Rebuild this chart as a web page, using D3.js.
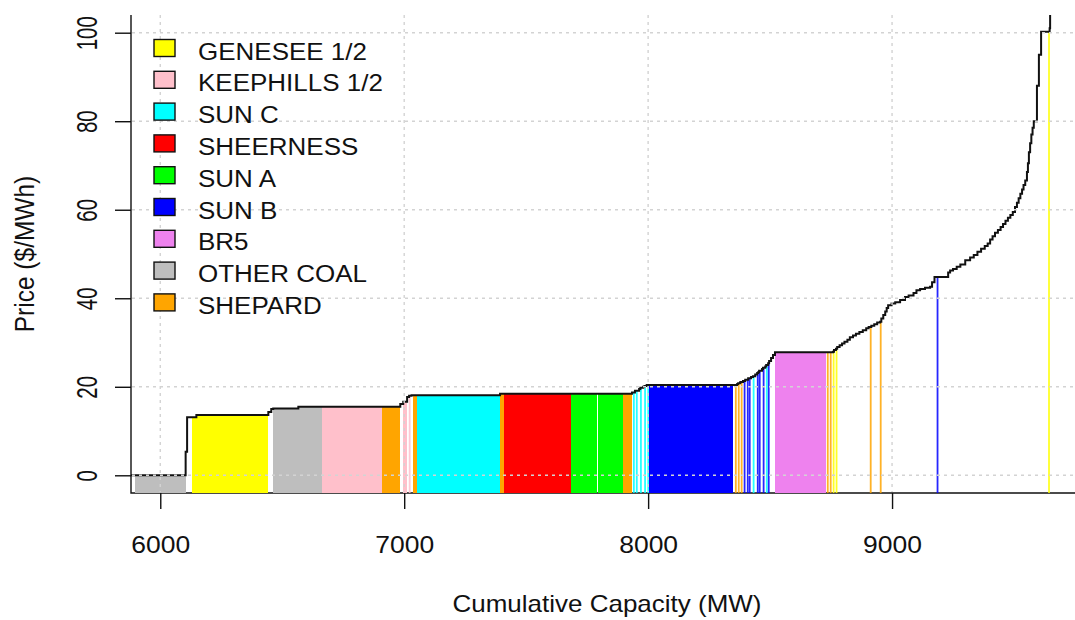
<!DOCTYPE html>
<html>

<head>
    <meta charset="UTF-8">
    <style>
        body { margin: 0; background: #fff; }
        svg { display: block; }
        text { font-family: "Liberation Sans", Arial, sans-serif; fill: #111; }
    </style>
</head>

<body>
    <svg></svg>
    <script src="https://d3js.org/d3.v7.min.js"></script>
    <script>
        let width = 1075,
            height = 620;

        // legend / plant colours (R named colours)
        let plants = ["GENESEE 1/2", "KEEPHILLS 1/2", "SUN C", "SHEERNESS", "SUN A", "SUN B", "BR5", "OTHER COAL", "SHEPARD"];
        let plantKeys = ["GEN", "KH", "SC", "SH", "SA", "SB", "BR5", "OC", "SP"];
        let plantColors = ["#ffff00", "#ffc0cb", "#00ffff", "#ff0000", "#00ff00", "#0000ff", "#ee82ee", "#bebebe", "#ffa500"];

        let xTicks = [6000, 7000, 8000, 9000];
        let yTicks = [0, 20, 40, 60, 80, 100];

        // merit order offers: [MW, price $/MWh, plant key ("" = other)]
        let startCapacity = 5870;
        let offers = [
            [26, 0, ""], [208, 0, "OC"], [6, 5.3, ""], [20, 13.1, ""], [18, 13.1, "GEN"], [295, 13.6, "GEN"],
            [12, 14.3, ""], [8, 15.0, ""], [103, 15.1, "OC"], [98, 15.5, "OC"], [246, 15.5, "KH"], [74, 15.5, "SP"],
            [12, 16.1, ""], [16, 16.6, "KH"], [8, 17.7, ""], [10, 18.0, "KH"], [8, 18.1, ""], [14, 18.1, "SP"],
            [341, 18.1, "SC"], [17, 18.4, "SP"], [274, 18.4, "SH"], [105, 18.4, "SA"], [4, 18.4, ""], [105, 18.4, "SA"],
            [36, 18.4, "SP"], [5, 18.7, ""], [7, 18.7, "SC"], [5, 19.1, ""], [12, 19.1, "SC"], [5, 19.5, ""],
            [12, 19.8, "SC"], [5, 20.0, ""], [9, 20.2, "SC"], [4, 20.4, ""], [6, 20.4, "SC"], [344, 20.4, "SB"],
            [9, 20.4, ""], [8, 20.4, "SP"], [4, 20.6, ""], [8, 20.8, "SP"], [4, 21.0, ""], [8, 21.1, "SP"],
            [4, 21.3, ""], [5, 21.3, "SB"], [8, 21.6, ""], [4, 21.6, "SB"], [4, 21.9, ""], [8, 21.9, "SB"],
            [8, 22.2, ""], [9, 22.4, "SC"], [8, 22.8, ""], [4, 23.1, "SB"], [4, 23.3, ""], [12, 23.6, "SB"],
            [4, 24.0, ""], [9, 24.3, "SB"], [4, 24.6, ""], [8, 24.9, "SC"], [4, 25.3, "SB"], [8, 25.8, ""],
            [8, 26.5, ""], [8, 27.2, ""], [210, 27.8, "BR5"], [4, 27.8, ""], [4, 27.8, "SP"], [8, 27.8, ""],
            [4, 27.8, "SP"], [8, 27.8, ""], [4, 27.9, "GEN"], [8, 28.3, ""], [5, 28.6, "GEN"],
            [10, 29.0, ""], [10, 29.4, ""], [10, 29.8, ""], [12, 30.2, ""], [10, 30.6, ""], [13, 31.2, ""],
            [12, 31.6, ""], [14, 32.0, ""], [14, 32.4, ""], [14, 32.8, ""], [10, 33.2, ""], [6, 33.5, ""],
            [5, 33.5, "SP"], [12, 33.8, ""], [12, 34.1, ""], [12, 34.5, ""], [5, 34.7, "SP"], [8, 35.4, ""],
            [8, 36.2, ""], [6, 37.0, ""], [6, 37.8, ""], [14, 38.4, ""], [15, 38.8, ""], [20, 39.1, ""],
            [20, 39.6, ""], [15, 40.3, ""], [20, 40.6, ""], [12, 41.2, ""], [15, 41.8, ""], [20, 42.1, ""],
            [21, 42.4, ""], [8, 42.6, ""], [10, 43.6, ""], [10, 44.8, ""], [6, 44.8, "SB"], [40, 44.8, ""],
            [8, 45.8, ""], [12, 46.3, ""], [15, 46.6, ""], [15, 47.1, ""], [20, 47.6, ""], [20, 48.6, ""],
            [15, 49.2, ""], [15, 49.8, ""], [15, 50.5, ""], [15, 51.2, ""], [12, 51.8, ""], [10, 52.4, ""],
            [10, 53.3, ""], [10, 54.0, ""], [12, 54.8, ""], [11, 55.4, ""], [10, 56.1, ""], [10, 56.8, ""],
            [10, 57.5, ""], [10, 58.2, ""], [10, 58.8, ""], [9, 59.5, ""], [8, 60.6, ""], [7, 61.6, ""],
            [7, 62.6, ""], [7, 63.6, ""], [6, 64.6, ""], [7, 65.6, ""], [7, 66.6, ""], [4, 68.5, ""],
            [4, 70.5, ""], [5, 73.0, ""], [5, 75.0, ""], [5, 77.0, ""], [5, 78.5, ""], [13, 80.0, ""],
            [8, 88.0, ""], [9, 95.0, ""], [30, 100.2, ""], [5, 100.2, "GEN"], [2, 101.0, ""], [20, 130.0, ""]
        ];

        let plotLeft = 131, plotRight = 1075, plotTop = 15, plotBottom = 493;

        let svg = d3.select("svg")
            .attr("width", width)
            .attr("height", height);

        let x = d3.scaleLinear().domain([5880, 9750]).range([plotLeft, plotRight]);
        let y = d3.scaleLinear().domain([-4, 104]).range([plotBottom, plotTop]);

        let colorOf = d3.scaleOrdinal().domain(plantKeys).range(plantColors);

        // cumulative positions
        let blocks = [];
        let cum = startCapacity;
        offers.forEach(o => {
            blocks.push({ x0: cum, x1: cum + o[0], price: o[1], unit: o[2] });
            cum += o[0];
        });

        svg.append("defs").append("clipPath").attr("id", "plot")
            .append("rect")
            .attr("x", plotLeft).attr("y", plotTop)
            .attr("width", plotRight - plotLeft).attr("height", plotBottom - plotTop);

        // bty = "l"
        svg.append("path")
            .attr("d", `M${plotLeft},${plotTop}V${plotBottom}H${plotRight}`)
            .attr("fill", "none")
            .attr("stroke", "#111")
            .attr("stroke-width", 1.4);

        let plot = svg.append("g").attr("clip-path", "url(#plot)");

        let thin = d => x(d.x1) - x(d.x0) < 3;

        plot.append("g")
            .selectAll("rect")
            .data(blocks.filter(d => d.unit !== ""))
            .enter()
            .append("rect")
            .attr("x", d => thin(d) ? x(d.x0) - 0.3 : x(d.x0))
            .attr("width", d => thin(d) ? 1.8 : x(d.x1) - x(d.x0))
            .attr("y", d => y(d.price))
            .attr("height", d => plotBottom + 1 - y(d.price))
            .attr("fill", d => colorOf(d.unit))
            .attr("fill-opacity", d => thin(d) ? 0.85 : 1)
            .attr("shape-rendering", d => thin(d) ? "auto" : "crispEdges");

        let stepPts = blocks.map(d => [d.x0, d.price]);
        stepPts.push([cum, blocks[blocks.length - 1].price]);

        plot.append("path")
            .datum(stepPts)
            .attr("d", d3.line().x(d => x(d[0])).y(d => y(d[1])).curve(d3.curveStepAfter))
            .attr("fill", "none")
            .attr("stroke", "#111")
            .attr("stroke-width", 2);

        // grid (drawn over, like R's grid())
        let grid = svg.append("g")
            .attr("stroke", "#d3d3d3")
            .attr("stroke-width", 1.4)
            .attr("stroke-dasharray", "3,4");
        grid.selectAll(".h").data(yTicks).enter().append("line")
            .attr("x1", plotLeft + 1).attr("x2", plotRight)
            .attr("y1", d => y(d)).attr("y2", d => y(d));
        grid.selectAll(".v").data(xTicks).enter().append("line")
            .attr("y1", plotTop).attr("y2", plotBottom - 1)
            .attr("x1", d => x(d)).attr("x2", d => x(d));

        // axes
        let yAxis = svg.append("g")
            .attr("transform", `translate(${plotLeft},0)`)
            .call(d3.axisLeft(y).tickValues(yTicks).tickSize(16).tickFormat(d3.format("d")));
        yAxis.select(".domain").remove();
        yAxis.selectAll("line").attr("stroke", "#111").attr("stroke-width", 1.4);
        yAxis.selectAll("text")
            .attr("x", null).attr("dy", null)
            .attr("transform", "translate(-34,0) rotate(-90) scale(1,1.4)")
            .attr("text-anchor", "middle")
            .style("font-size", "20.5px")
            .style("fill", "#111");

        let xAxis = svg.append("g")
            .attr("transform", `translate(0,${plotBottom})`)
            .call(d3.axisBottom(x).tickValues(xTicks).tickSize(16).tickFormat(d3.format("d")));
        xAxis.select(".domain").remove();
        xAxis.selectAll("line").attr("stroke", "#111").attr("stroke-width", 1.4);
        xAxis.selectAll("text")
            .attr("y", null).attr("dy", null)
            .attr("transform", "translate(0,60) scale(1,0.9)")
            .style("font-size", "26.5px")
            .style("fill", "#111");

        svg.append("text")
            .attr("transform", "translate(607,612) scale(1,0.9)")
            .attr("text-anchor", "middle")
            .style("font-size", "26px")
            .text("Cumulative Capacity (MW)");

        svg.append("text")
            .attr("transform", "translate(34,254) rotate(-90) scale(1,1.12)")
            .attr("text-anchor", "middle")
            .style("font-size", "24.5px")
            .text("Price ($/MWh)");

        // legend
        let legend = svg.append("g")
            .selectAll("g")
            .data(plants)
            .enter()
            .append("g")
            .attr("transform", (d, i) => `translate(0,${i * 31.8})`);

        legend.append("rect")
            .attr("x", 154).attr("y", 39.5)
            .attr("width", 21).attr("height", 17)
            .attr("fill", (d, i) => plantColors[i])
            .attr("stroke", "#111")
            .attr("stroke-width", 1.4);

        legend.append("text")
            .attr("transform", "translate(198,59.5) scale(1,0.93)")
            .style("font-size", "26px")
            .text(d => d);
    </script>
</body>

</html>
